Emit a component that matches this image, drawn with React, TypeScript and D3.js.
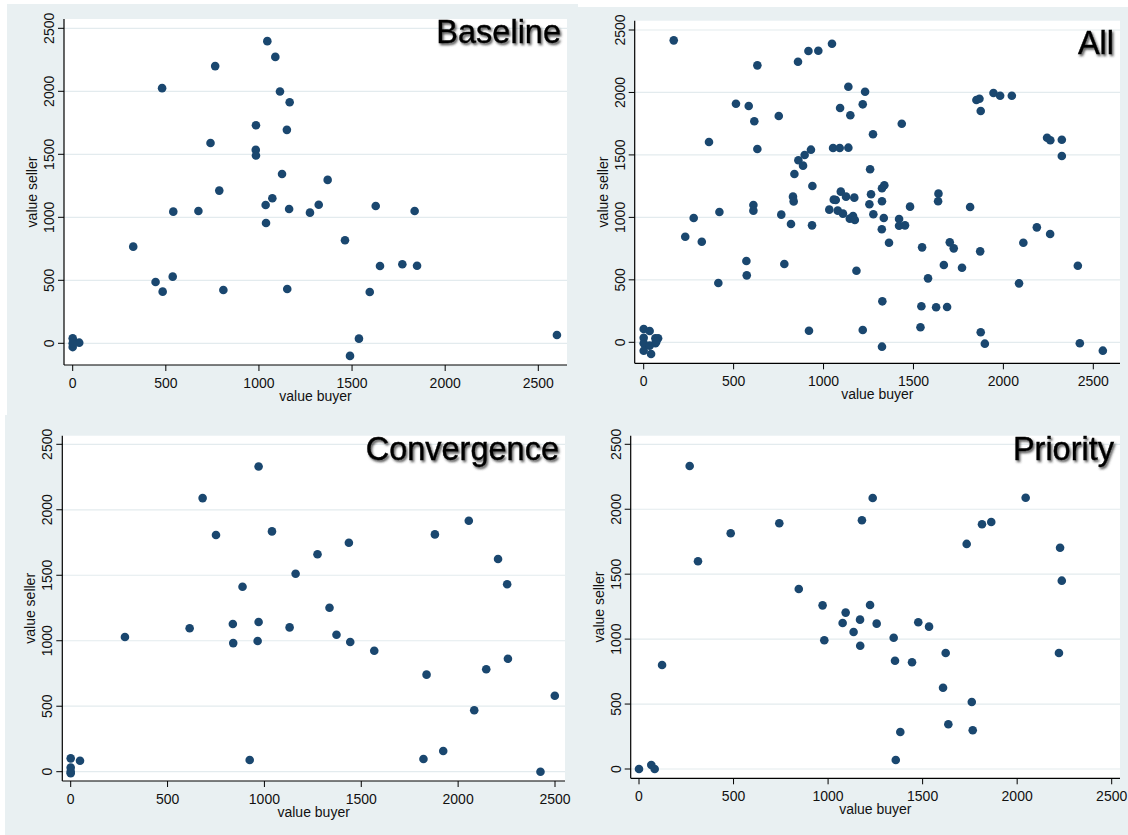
import * as d3 from 'd3';
import React from 'react';

type Pt = [number, number];

const axisTicks = [0, 500, 1000, 1500, 2000, 2500];

// [value buyer, value seller]
const baseline: Pt[] = [
  [0, 40], [0, -30], [5, 10], [35, 5], [0, 0],
  [325, 767], [480, 2025], [445, 487], [483, 410], [537, 529], [540, 1045],
  [675, 1050], [740, 1590], [765, 2200], [787, 1212], [809, 423],
  [984, 1730], [983, 1535], [984, 1490], [1036, 1098], [1038, 955],
  [1045, 2398], [1072, 1151], [1088, 2273], [1113, 1998], [1124, 1344],
  [1150, 1694], [1152, 431], [1162, 1066], [1165, 1913],
  [1274, 1037], [1321, 1100], [1369, 1297], [1462, 818], [1489, -100],
  [1537, 37], [1595, 407], [1627, 1090], [1650, 614], [1770, 627],
  [1836, 1050], [1849, 616], [2600, 66],
];

const all: Pt[] = [
  [0, 106], [0, 37], [0, -8], [0, -67], [33, 90], [33, -27], [41, -94],
  [65, 32], [65, -8], [80, 32], [70, 5],
  [167, 2417], [231, 845], [278, 995], [323, 805], [363, 1603], [415, 475],
  [421, 1043], [513, 1910], [571, 651], [573, 536], [584, 1892], [610, 1099],
  [610, 1054], [615, 1769], [632, 2217], [632, 1547], [751, 1812], [765, 1022],
  [782, 627], [819, 947], [830, 1166], [834, 1128], [838, 1347], [858, 2246],
  [860, 1457], [886, 1414], [895, 1499], [916, 2332], [919, 93], [930, 1542],
  [936, 936], [938, 1251], [971, 2334], [1032, 1062], [1047, 2390],
  [1053, 1555], [1057, 1142], [1068, 1139], [1079, 1054], [1090, 1555],
  [1092, 1876], [1096, 1206], [1108, 1030], [1125, 1166], [1138, 2046],
  [1138, 1558], [1146, 990], [1149, 1817], [1164, 1011], [1171, 1158],
  [1174, 979], [1183, 573],
  [1218, 98], [1218, 1905], [1231, 2006], [1259, 1385], [1255, 1105],
  [1264, 1185], [1275, 1665], [1277, 1025], [1324, 905], [1325, -35],
  [1327, 328], [1325, 1129], [1325, 1233], [1338, 1257], [1335, 995],
  [1364, 797], [1420, 987], [1420, 933], [1435, 1750], [1453, 936],
  [1481, 1086], [1539, 120], [1544, 288], [1548, 760], [1581, 512],
  [1626, 280], [1637, 1129], [1639, 1190], [1669, 619], [1687, 283],
  [1702, 800], [1724, 752], [1770, 597], [1815, 1083], [1850, 1940],
  [1867, 1950], [1871, 728], [1874, 1852], [1874, 80], [1897, -11],
  [1945, 1996], [1982, 1974], [2047, 1974], [2087, 472], [2111, 797],
  [2186, 920], [2243, 1638], [2260, 867], [2261, 1617], [2325, 1622],
  [2325, 1491], [2414, 613], [2425, -8], [2553, -67],
];

const convergence: Pt[] = [
  [0, 102], [0, 31], [0, 0], [0, -12], [48, 84],
  [280, 1028], [614, 1095], [681, 2089], [750, 1807], [837, 1128],
  [839, 982], [887, 1412], [924, 89], [965, 998], [970, 1143], [970, 2331],
  [1039, 1835], [1130, 1102], [1161, 1512], [1274, 1660], [1336, 1252],
  [1372, 1046], [1436, 1748], [1443, 990], [1567, 924], [1821, 97],
  [1837, 741], [1880, 1812], [1923, 158], [2055, 1916], [2083, 469],
  [2145, 782], [2206, 1624], [2253, 1431], [2257, 863], [2425, 0], [2499, 580],
];

const priority: Pt[] = [
  [0, 0], [65, 31], [83, 0], [122, 801], [268, 2333], [312, 1599],
  [485, 1815], [742, 1892], [845, 1386], [971, 1260], [980, 991],
  [1077, 1124], [1093, 1204], [1135, 1055], [1169, 1150], [1170, 949],
  [1179, 1915], [1222, 1263], [1236, 2087], [1257, 1119], [1347, 1011],
  [1354, 834], [1358, 69], [1382, 285], [1444, 822], [1477, 1130],
  [1534, 1096], [1608, 626], [1622, 893], [1636, 344], [1733, 1733],
  [1760, 516], [1765, 298], [1814, 1884], [1863, 1902], [2045, 2089],
  [2221, 893], [2227, 1704], [2236, 1450],
];

const BG = '#e9f0f2';
const GRID = '#e3ebee';
const DOT = '#1a476f';
const FONT = '"Liberation Sans", Arial, Helvetica, sans-serif';

interface PanelProps {
  title: string;
  titleDy: number;
  data: Pt[];
  rect: { x0: number; y0: number; x1: number; y1: number };
  xr: [number, number];
  yr: [number, number];
}

function Panel({ title, titleDy, data, rect, xr, yr }: PanelProps) {
  const x = d3.scaleLinear().domain([0, 2500]).range(xr);
  const y = d3.scaleLinear().domain([0, 2500]).range(yr);
  const { x0, y0, x1, y1 } = rect;
  const midX = (x0 + x1) / 2;
  const midY = (y0 + y1) / 2;

  return (
    <g fontFamily={FONT}>
      <rect x={x0} y={y0} width={x1 - x0} height={y1 - y0} fill="#fff" />
      {axisTicks.map((t) => (
        <line key={`g${t}`} x1={x0} x2={x1} y1={y(t)} y2={y(t)} stroke={GRID} strokeWidth={1.2} />
      ))}
      <text
        x={x1 - 6}
        y={y0 + titleDy}
        textAnchor="end"
        fontSize={32.5}
        fill="#000"
        stroke="#000"
        strokeWidth={0.4}
        filter="url(#shadow)"
      >
        {title}
      </text>
      {data.map(([bx, sy], i) => (
        <circle key={i} cx={x(bx)} cy={y(sy)} r={4.3} fill={DOT} />
      ))}
      <line x1={x0} x2={x0} y1={y0} y2={y1} stroke="#000" strokeWidth={1.2} />
      <line x1={x0} x2={x1} y1={y1} y2={y1} stroke="#000" strokeWidth={1.2} />
      {axisTicks.map((t) => (
        <g key={`y${t}`}>
          <line x1={x0 - 6} x2={x0} y1={y(t)} y2={y(t)} stroke="#000" />
          <text
            transform={`translate(${x0 - 10},${y(t)}) rotate(-90)`}
            textAnchor="middle"
            fontSize={14}
            fill="#111"
          >
            {t}
          </text>
        </g>
      ))}
      {axisTicks.map((t) => (
        <g key={`x${t}`}>
          <line x1={x(t)} x2={x(t)} y1={y1} y2={y1 + 6} stroke="#000" />
          <text x={x(t)} y={y1 + 23} textAnchor="middle" fontSize={14} fill="#111">
            {t}
          </text>
        </g>
      ))}
      <text x={midX} y={y1 + 36} textAnchor="middle" fontSize={14} fill="#111">
        value buyer
      </text>
      <text
        transform={`translate(${x0 - 27},${midY}) rotate(-90)`}
        textAnchor="middle"
        fontSize={14}
        fill="#111"
      >
        value seller
      </text>
    </g>
  );
}

export default function App() {
  const W = 1128;
  const H = 835;
  return (
    <svg
      width={W}
      height={H}
      style={{ position: 'absolute', left: 0, top: 0, display: 'block' }}
    >
      <defs>
        <filter id="shadow" x="-10%" y="-20%" width="130%" height="160%">
          <feDropShadow dx={1.5} dy={2} stdDeviation={1.2} floodColor="#333" floodOpacity={0.8} />
        </filter>
      </defs>
      <rect width={W} height={H} fill={BG} />
      <rect x={0} y={0} width={578} height={4} fill="#fff" />
      <rect x={0} y={0} width={7} height={415} fill="#fff" />
      <rect x={578} y={0} width={550} height={7} fill="#fff" />
      <rect x={0} y={415} width={5} height={420} fill="#fff" />
      <Panel
        title="Baseline"
        titleDy={24}
        data={baseline}
        rect={{ x0: 64, y0: 19, x1: 567, y1: 365 }}
        xr={[72.7, 538.3]}
        yr={[343.3, 28.3]}
      />
      <Panel
        title="All"
        titleDy={33}
        data={all}
        rect={{ x0: 634.7, y0: 20.7, x1: 1120, y1: 363.3 }}
        xr={[643.7, 1093.3]}
        yr={[342.3, 30]}
      />
      <Panel
        title="Convergence"
        titleDy={24}
        data={convergence}
        rect={{ x0: 62.3, y0: 435.7, x1: 565, y1: 781 }}
        xr={[70.7, 555]}
        yr={[771.7, 444.3]}
      />
      <Panel
        title="Priority"
        titleDy={24}
        data={priority}
        rect={{ x0: 630.7, y0: 435.7, x1: 1120, y1: 778.3 }}
        xr={[639, 1111.7]}
        yr={[769, 444.3]}
      />
    </svg>
  );
}
